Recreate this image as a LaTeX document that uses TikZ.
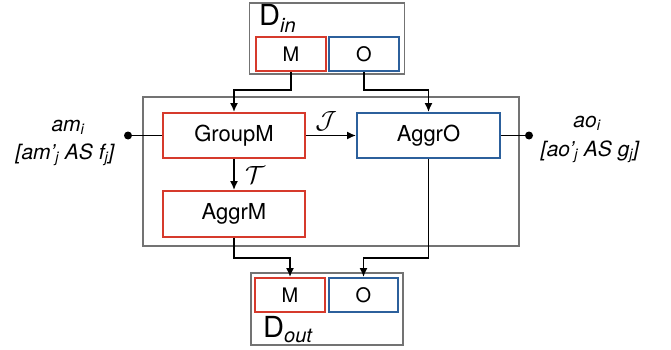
\documentclass[tikz,border=0pt]{standalone}
\usepackage{fontspec}
\setmainfont{TeX Gyre Heros}
\usetikzlibrary{arrows.meta,positioning}
\definecolor{mred}{RGB}{214,58,44}
\definecolor{oblue}{RGB}{44,96,156}
\definecolor{boxgray}{RGB}{115,115,115}
\tikzset{
    outerbox/.style={draw=boxgray, line width=1.8pt, inner sep=0pt},
    mbox/.style={draw=mred, line width=1.8pt, minimum width=70pt, minimum height=34pt, inner sep=0pt, font=\fontsize{20}{20}\selectfont},
    obox/.style={mbox, draw=oblue},
    opbox/.style={mbox, minimum width=142pt, minimum height=45pt, font=\fontsize{22}{22}\selectfont},
    conn/.style={line width=1.8pt, -{Latex[length=9pt,width=8pt]}},
    wire/.style={line width=1.8pt},
    pin/.style={circle, fill, inner sep=0pt, minimum size=8pt},
}

\begin{document}
\begin{tikzpicture}[x=1pt, y=-1pt, font=\fontsize{21}{24}\selectfont]
    \useasboundingbox (0,0) rectangle (671,350);

    % input dataset
    \node (din) [outerbox, minimum width=155pt, minimum height=71pt] at (327,38.5) {};
    \node (dinlbl) [anchor=base west, inner sep=0pt] at (259,26) {\fontsize{29}{29}\selectfont D\raisebox{-7pt}{\fontsize{20}{20}\selectfont\itshape in}};
    \node (dinm) [mbox] at (291,54) {M};
    \node (dino) [obox] at (364,54) {O};

    % operators
    \node (main) [outerbox, minimum width=376pt, minimum height=149pt] at (331,171.5) {};
    \node (groupm) [opbox] at (234,135.5) {GroupM};
    \node (aggro) [opbox, draw=oblue, minimum width=143pt] at (428.5,135.5) {AggrO};
    \node (aggrm) [opbox, minimum height=46pt] at (234,214) {AggrM};

    % output dataset
    \node (dout) [outerbox, minimum width=152pt, minimum height=72pt] at (327,309) {};
    \node (doutm) [mbox] at (290,295) {M};
    \node (douto) [obox, minimum width=69pt] at (363.5,295) {O};
    \node (doutlbl) [anchor=base west, inner sep=0pt] at (263,337) {\fontsize{29}{29}\selectfont D\raisebox{-5pt}{\fontsize{20}{20}\selectfont\itshape out}};

    % parameters
    \node (ampin) [pin] at (128,135.5) {};
    \node (aopin) [pin] at (529,135.5) {};
    \node (amlbl) at (68,127) {\itshape am\textsubscript{i}};
    \node (amlist) at (65,155) {\itshape [am'\textsubscript{j} AS f\textsubscript{j}]};
    \node (aolbl) at (587,123) {\itshape ao\textsubscript{i}};
    \node (aolist) at (590,152) {\itshape [ao'\textsubscript{j} AS g\textsubscript{j}]};
    \draw [wire] (ampin) -- (groupm.west);
    \draw [wire] (aggro.east) -- (aopin);

    % flows
    \draw [conn] (dinm.south) -- ++(0,18) -| (groupm.north);
    \draw [conn] (dino.south) -- ++(0,18) -| (aggro.north);
    \draw [conn] (groupm) -- node[above=0pt, xshift=-5pt] {\fontsize{30}{30}\selectfont$\mathcal{J}$} (aggro);
    \draw [conn] (groupm) -- node[right=7pt] {\fontsize{30}{30}\selectfont$\mathcal{T}$} (aggrm);
    \draw [conn] (aggrm.south) -- ++(0,20) -| (doutm.north);
    \draw [conn] (aggro.south) -- ++(0,99) -| (douto.north);
\end{tikzpicture}
\end{document}
